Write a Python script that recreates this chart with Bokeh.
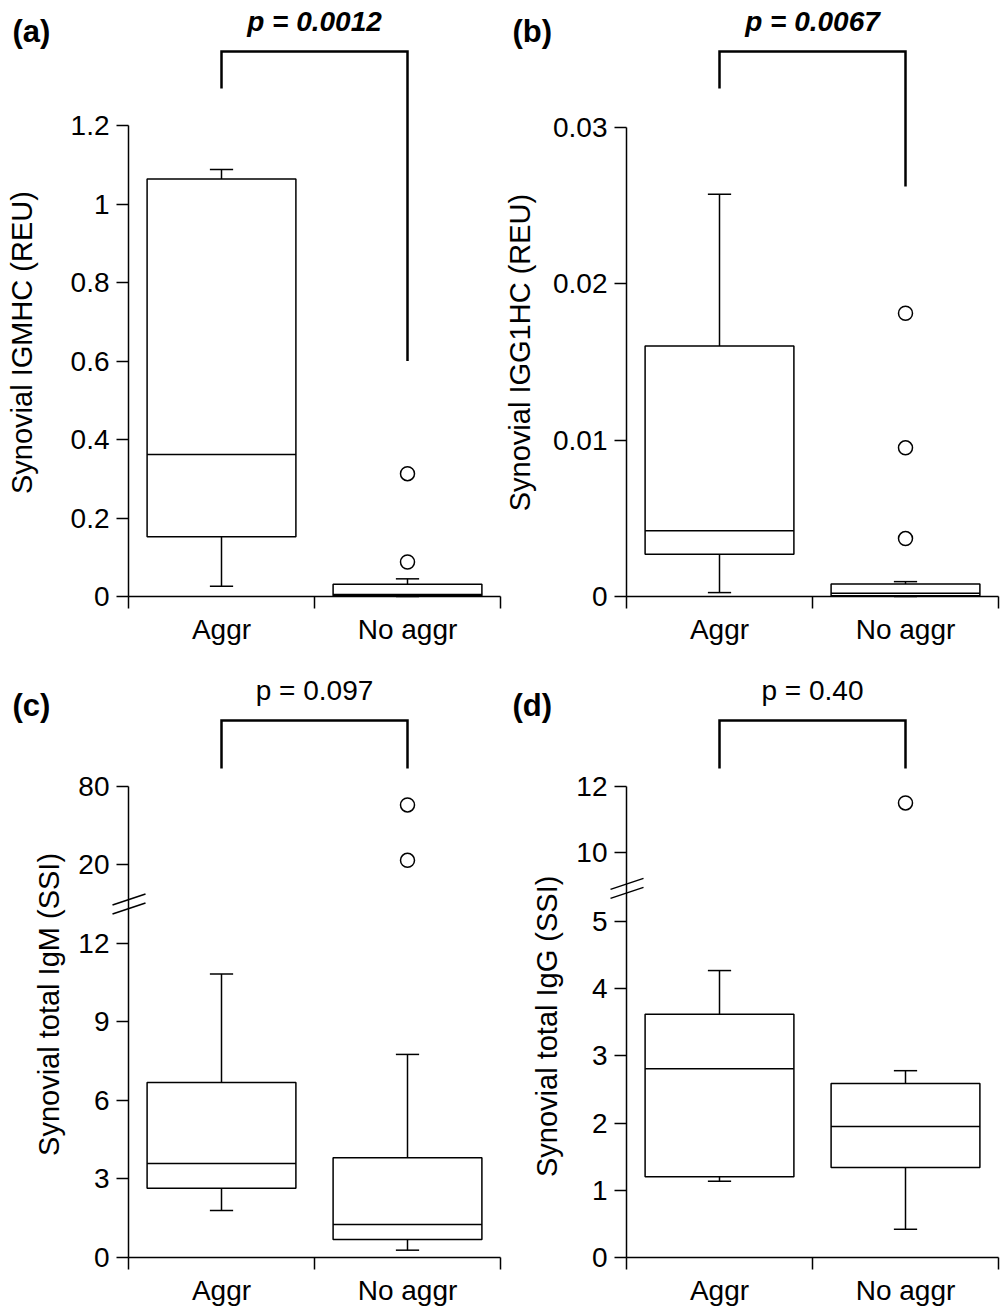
import math
from bokeh.plotting import figure
from bokeh.models import (Range1d, FixedTicker, CustomJSTickFormatter, Label, Arrow,
                          LinearAxis)
from bokeh.layouts import column, row
from bokeh.embed import file_html
from bokeh.resources import INLINE

# ---------------- data ----------------
categories = ["Aggr", "No aggr"]

# (a) Synovial IGMHC (REU)
a_low = [0.026, 0.0]
a_q1 = [0.152, 0.002]
a_med = [0.362, 0.005]
a_q3 = [1.064, 0.031]
a_high = [1.088, 0.045]
a_out_cat = [1, 1]
a_out_val = [0.313, 0.088]
a_ticks = [0, 0.2, 0.4, 0.6, 0.8, 1.0, 1.2]
a_tick_labels = ["0", "0.2", "0.4", "0.6", "0.8", "1", "1.2"]
a_p = "p = 0.0012"
a_title = "Synovial IGMHC (REU)"

# (b) Synovial IGG1HC (REU)
b_low = [0.00025, 0.0]
b_q1 = [0.0027, 0.00005]
b_med = [0.0042, 0.0002]
b_q3 = [0.0160, 0.0008]
b_high = [0.0257, 0.00095]
b_out_cat = [1, 1, 1]
b_out_val = [0.0181, 0.0095, 0.0037]
b_ticks = [0, 0.01, 0.02, 0.03]
b_tick_labels = ["0", "0.01", "0.02", "0.03"]
b_p = "p = 0.0067"
b_title = "Synovial IGG1HC (REU)"

# (c) Synovial total IgM (SSI)  -- broken axis
c_low = [1.80, 0.28]
c_q1 = [2.65, 0.69]
c_med = [3.59, 1.26]
c_q3 = [6.69, 3.81]
c_high = [10.83, 7.76]
c_out_cat = [1, 1]
c_out_val = [66.0, 23.0]
c_ticks = [0, 3, 6, 9, 12, 20, 80]
c_tick_labels = ["0", "3", "6", "9", "12", "20", "80"]
c_p = "p = 0.097"
c_title = "Synovial total IgM (SSI)"

# (d) Synovial total IgG (SSI)  -- broken axis
d_low = [1.135, 0.42]
d_q1 = [1.20, 1.34]
d_med = [2.81, 1.95]
d_q3 = [3.62, 2.59]
d_high = [4.27, 2.78]
d_out_cat = [1]
d_out_val = [11.5]
d_ticks = [0, 1, 2, 3, 4, 5, 10, 12]
d_tick_labels = ["0", "1", "2", "3", "4", "5", "10", "12"]
d_p = "p = 0.40"
d_title = "Synovial total IgG (SSI)"

# ---------------- helpers ----------------
FONT = "Liberation Sans"
XPPU = 186.0  # pixels per category unit


def make_brk(lower_max, up_start, up_disp0, up_k):
    def f(v):
        return v if v <= lower_max else up_disp0 + (v - up_start) * up_k
    return f


def ident(v):
    return v


def fmt(tvals, labels):
    return CustomJSTickFormatter(args=dict(tv=list(tvals), tl=list(labels)), code="""
        let best = 0;
        for (let i = 0; i < tv.length; i++) {
            if (Math.abs(tv[i] - tick) < Math.abs(tv[best] - tick)) best = i;
        }
        return tl[best];
    """)


def build(g, low, q1, med, q3, high, out_cat, out_val, ticks, tick_labels,
          ptext, pbold, title, letter, tf):
    ppu = g["ppu"]
    # frame covers the whole figure; axes are pinned at x=0 / y=0
    x0 = -g["ax_x"] / XPPU
    x1 = (g["w"] - g["ax_x"]) / XPPU
    y0 = -(g["h"] - g["ax_y"]) / ppu
    y1 = g["ax_y"] / ppu
    p = figure(width=g["w"], height=g["h"], x_range=Range1d(x0, x1),
               y_range=Range1d(y0, y1), output_backend="svg",
               toolbar_location=None, x_axis_type=None, y_axis_type=None,
               min_border=0, min_border_left=0, min_border_right=0,
               min_border_top=0, min_border_bottom=0)
    p.outline_line_color = None
    p.background_fill_color = "white"
    p.border_fill_color = "white"

    # x axis: labels at category centres, ticks at category boundaries
    xax = LinearAxis(ticker=FixedTicker(ticks=[0.5, 1.5], minor_ticks=[0, 1, 2]),
                     formatter=fmt([0.5, 1.5], categories), fixed_location=0,
                     bounds=(0, 2))
    xax.major_tick_out = 0
    xax.major_tick_in = 0
    xax.minor_tick_out = 12
    xax.minor_tick_in = 0
    xax.minor_tick_line_color = "black"
    xax.minor_tick_line_width = 1.5
    xax.axis_line_color = "black"
    xax.axis_line_width = 1.5
    xax.major_label_text_font = FONT
    xax.major_label_text_font_size = "28px"
    xax.major_label_text_color = "black"
    xax.major_label_standoff = 5
    p.add_layout(xax, "below")

    tvals = [tf(t) for t in ticks]
    yax = LinearAxis(ticker=FixedTicker(ticks=tvals), formatter=fmt(tvals, tick_labels),
                     bounds=(0, tvals[-1]), fixed_location=0)
    yax.major_tick_out = 12
    yax.major_tick_in = 0
    yax.minor_tick_out = 0
    yax.minor_tick_in = 0
    yax.major_tick_line_color = "black"
    yax.major_tick_line_width = 1.5
    yax.axis_line_color = "black"
    yax.axis_line_width = 1.5
    yax.major_label_text_font = FONT
    yax.major_label_text_font_size = "28px"
    yax.major_label_text_color = "black"
    yax.major_label_standoff = 7
    p.add_layout(yax, "left")

    xc = [i + 0.5 for i in range(len(categories))]
    hw = 0.4
    cap = 0.0625
    lw = 1.5
    lo = [tf(v) for v in low]
    a1 = [tf(v) for v in q1]
    md = [tf(v) for v in med]
    a3 = [tf(v) for v in q3]
    hi = [tf(v) for v in high]

    p.segment(x0=xc, y0=a3, x1=xc, y1=hi, line_color="black", line_width=lw)
    p.segment(x0=xc, y0=a1, x1=xc, y1=lo, line_color="black", line_width=lw)
    p.segment(x0=[x - cap for x in xc], y0=hi, x1=[x + cap for x in xc], y1=hi,
              line_color="black", line_width=lw)
    p.segment(x0=[x - cap for x in xc], y0=lo, x1=[x + cap for x in xc], y1=lo,
              line_color="black", line_width=lw)
    p.quad(left=[x - hw for x in xc], right=[x + hw for x in xc], bottom=a1, top=a3,
           fill_color="white", line_color="black", line_width=lw)
    p.segment(x0=[x - hw for x in xc], y0=md, x1=[x + hw for x in xc], y1=md,
              line_color="black", line_width=lw)
    p.scatter(x=[xc[i] for i in out_cat], y=[tf(v) for v in out_val], marker="circle",
              size=14, fill_color="white", line_color="black", line_width=1.5)

    # significance bracket
    br = g["bracket"]
    p.line(x=[0.5, 0.5, 1.5, 1.5], y=[br[1], br[0], br[0], br[2]],
           line_color="black", line_width=2.5, line_join="miter")

    p.add_layout(Label(x=1.0, y=g["p_y"], text=ptext, text_align="center",
                       text_baseline="alphabetic", text_font=FONT,
                       text_font_size="28px", text_color="black",
                       text_font_style="bold italic" if pbold else "normal"))
    p.add_layout(Label(x=g["letter"][0], y=g["letter"][1], text=letter, text_align="left",
                       text_baseline="middle", text_font=FONT, text_font_size="31px",
                       text_font_style="bold", text_color="black"))
    p.add_layout(Label(x=g["ytitle"][0], y=g["ytitle"][1], text=title, angle=math.pi / 2,
                       text_align="center", text_baseline="middle", text_font=FONT,
                       text_font_size="29px", text_color="black"))

    if g.get("brk") is not None:
        yc = g["brk"]
        for off in (-4.5, 4.5):
            Ls = (-16, off + 5.3)
            Le = (17, off - 5.7)
            p.add_layout(Arrow(start=None, end=None,
                               x_start=Ls[0] / XPPU, y_start=yc - Ls[1] / ppu,
                               x_end=Le[0] / XPPU, y_end=yc - Le[1] / ppu,
                               line_color="black", line_width=1.5))
    return p


# geometry: figure size, axis position inside figure (px), y pixels per unit
geo_a = dict(w=504, h=662, ax_x=128, ax_y=596, ppu=392.5,
             bracket=(1.3885, 1.294, 0.6), p_y=1.465,
             letter=(-0.624, 1.439), ytitle=(-0.570, 0.647), brk=None)
geo_b = dict(w=500, h=662, ax_x=122, ax_y=596, ppu=15650.0,
             bracket=(0.034824, 0.03246, 0.026198), p_y=0.036741,
             letter=(-0.613, 0.036102), ytitle=(-0.570, 0.01559), brk=None)
geo_c = dict(w=504, h=653, ax_x=128, ax_y=595, ppu=26.17,
             bracket=(20.52, 18.69, 18.69), p_y=21.66,
             letter=(-0.624, 21.10), ytitle=(-0.430, 9.67), brk=13.50)
geo_d = dict(w=500, h=653, ax_x=122, ax_y=595, ppu=67.2,
             bracket=(7.99, 7.277, 7.277), p_y=8.44,
             letter=(-0.613, 8.21), ytitle=(-0.425, 3.44), brk=5.49)

tf_c = make_brk(15.0, 20.0, 15.03, 0.04923)
tf_d = make_brk(5.5, 10.0, 6.02, 0.4966)

pa = build(geo_a, a_low, a_q1, a_med, a_q3, a_high, a_out_cat, a_out_val,
           a_ticks, a_tick_labels, a_p, True, a_title, "(a)", ident)
pb = build(geo_b, b_low, b_q1, b_med, b_q3, b_high, b_out_cat, b_out_val,
           b_ticks, b_tick_labels, b_p, True, b_title, "(b)", ident)
pc = build(geo_c, c_low, c_q1, c_med, c_q3, c_high, c_out_cat, c_out_val,
           c_ticks, c_tick_labels, c_p, False, c_title, "(c)", tf_c)
pd = build(geo_d, d_low, d_q1, d_med, d_q3, d_high, d_out_cat, d_out_val,
           d_ticks, d_tick_labels, d_p, False, d_title, "(d)", tf_d)

layout = column(row(pa, pb), row(pc, pd))
open("out.html", "w").write(file_html(layout, INLINE))
